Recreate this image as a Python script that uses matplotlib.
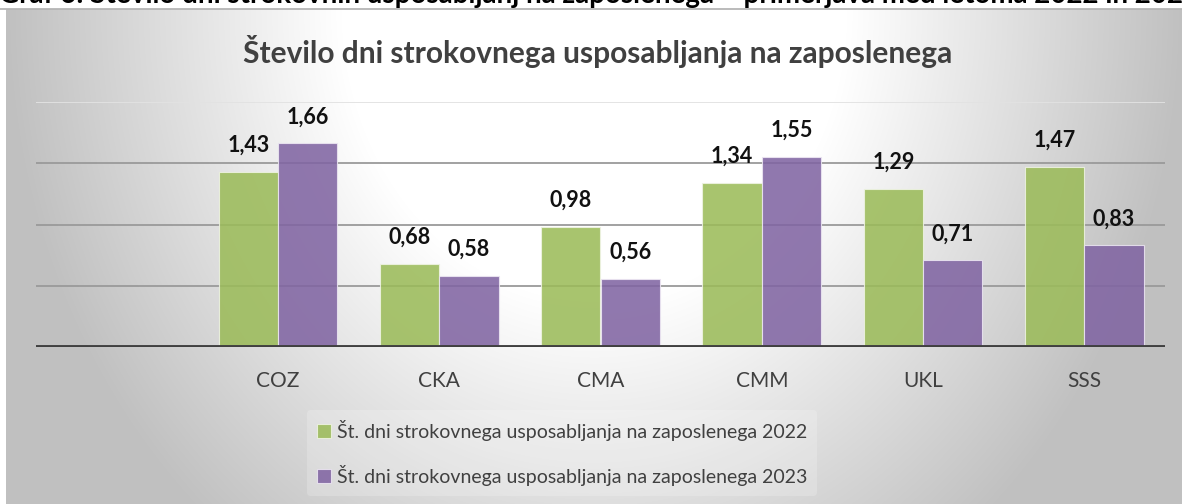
import matplotlib
matplotlib.use("Agg")
import matplotlib.pyplot as plt
import numpy as np

# podatki
kategorije = ["", "COZ", "CKA", "CMA", "CMM", "UKL", "SSS"]
vrednosti_2022 = [np.nan, 1.43, 0.68, 0.98, 1.34, 1.29, 1.47]
vrednosti_2023 = [np.nan, 1.66, 0.58, 0.56, 1.55, 0.71, 0.83]
oznaka_2022 = "Št. dni strokovnega usposabljanja na zaposlenega 2022"
oznaka_2023 = "Št. dni strokovnega usposabljanja na zaposlenega 2023"
naslov = "Število dni strokovnega usposabljanja na zaposlenega"
napis = "Graf 6: Število dni strokovnih usposabljanj na zaposlenega – primerjava med letoma 2022 in 2023"

plt.rcParams['font.family'] = ['Lato', 'DejaVu Sans']

W, H = 1182, 504
fig = plt.figure(figsize=(W / 100, H / 100), dpi=100)
fig.patch.set_facecolor("white")

# ozadje z gradientom
bg = fig.add_axes([6 / W, 0, 1 - 6 / W, (H - 9) / H])
yy, xx = np.mgrid[0:495, 0:1176]
d = np.sqrt(((xx - 588) / 588.0) ** 2 + (yy / 680.0) ** 2)
v = 255 - 110 * np.clip(d - 0.43, 0, None)
v = np.clip(v, 192, 255) / 255.0
bg.imshow(np.dstack([v, v, v]), aspect="auto", interpolation="bilinear")
bg.axis("off")
fig.add_artist(plt.Line2D([0, 1], [1 - 8.7 / H, 1 - 8.7 / H], color="#b5b5b5", lw=1.3))

# napis nad grafom (odrezan, kot na izvirniku)
fig.text(-0.001, 1 - 3.5 / H, napis, fontsize=20, fontweight="bold", color="black",
         ha="left", va="baseline")

ax = fig.add_axes([36 / W, (H - 347.3) / H, (1165 - 36) / W, (347.3 - 101.7) / H])
ax.patch.set_alpha(0)
x = np.arange(len(kategorije))
sirina = 0.368

b1 = ax.bar(x - sirina / 2, vrednosti_2022, sirina, color="#9bbb59", alpha=0.87,
            edgecolor="#eef3e2", linewidth=0.8, label=oznaka_2022, zorder=3)
b2 = ax.bar(x + sirina / 2, vrednosti_2023, sirina, color="#8064a2", alpha=0.87,
            edgecolor="#ece6f2", linewidth=0.8, label=oznaka_2023, zorder=3)

for serija in (vrednosti_2022, vrednosti_2023):
    zamik = -sirina / 2 if serija is vrednosti_2022 else sirina / 2
    for i, val in enumerate(serija):
        if np.isnan(val):
            continue
        ax.annotate(f"{val:.2f}".replace(".", ","), (x[i] + zamik, val),
                    xytext=(0, 19), textcoords="offset points", ha="center", va="center",
                    fontsize=15.5, fontweight="bold", color="#111111", zorder=5)

ax.set_xlim(-0.5, len(kategorije) - 0.5)
ax.set_ylim(0, 2.0)
for g in [0.5, 1.0, 1.5]:
    ax.axhline(g, color="#9a9a9a", lw=1.3, zorder=1)
ax.axhline(2.0, color="#e2e2e2", lw=1.3, zorder=1)
ax.axhline(0, color="#404040", lw=2.8, zorder=4)

ax.set_xticks(x)
ax.set_xticklabels(kategorije, fontsize=15, color="#404040")
ax.tick_params(axis="x", length=0, pad=17)
ax.set_yticks([])
for s in ax.spines.values():
    s.set_visible(False)

fig.text(598 / W, 1 - 52 / H, naslov, fontsize=21.5, fontweight="bold", color="#404040",
         ha="center", va="center")

leg = fig.legend(handles=[b1, b2], loc="center", bbox_to_anchor=(562 / W, 1 - 453 / H),
                 ncol=1, fontsize=14, frameon=True, handlelength=0.75, handleheight=0.75,
                 handletextpad=0.3, labelspacing=1.25, borderpad=0.5)
leg.get_frame().set_facecolor("white")
leg.get_frame().set_alpha(0.2)
leg.get_frame().set_edgecolor("none")
for t in leg.get_texts():
    t.set_color("#404040")

fig.savefig("out.png", dpi=100)
